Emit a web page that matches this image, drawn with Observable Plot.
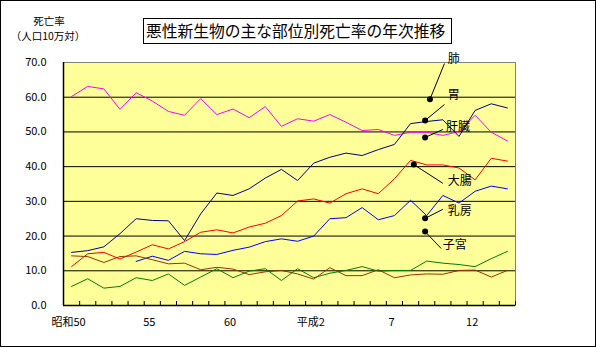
<!DOCTYPE html>
<html>
<head>
<meta charset="utf-8">
<script src="https://cdn.jsdelivr.net/npm/d3@7"></script>
<script src="https://cdn.jsdelivr.net/npm/@observablehq/plot@0.6"></script>
<style>
  body { margin: 0; background: #fff; }
  #wrap { position: relative; width: 596px; height: 348px; font-family: "Noto Sans CJK JP", sans-serif; }
  #border { position: absolute; left: 0; top: 0; width: 596px; height: 347px; box-sizing: border-box; border: 1px solid #000; pointer-events: none; }
  #title { position: absolute; left: 143px; top: 18px; width: 309px; height: 26px; box-sizing: border-box; border: 1px solid #000; background: #fff; }
  #title span { position: absolute; left: 2px; top: 0; font-size: 17px; line-height: 23px; white-space: nowrap; }
  .ylab { position: absolute; font-size: 10.5px; line-height: 12px; white-space: nowrap; text-align: center; }
</style>
</head>
<body>
<div id="wrap">
  <div id="chart"></div>
  <div id="title"><span id="titletext">悪性新生物の主な部位別死亡率の年次推移</span></div>
  <div class="ylab" style="left:20px; top:15px; width:58px;">死亡率</div>
  <div class="ylab" style="left:7px; top:30px; width:82px;">（人口10万対）</div>
  <div id="border"></div>
</div>
<script>
// Categories: years 昭和50 (1975) .. 平成14 (2002)
const years = [1975,1976,1977,1978,1979,1980,1981,1982,1983,1984,1985,1986,1987,1988,
               1989,1990,1991,1992,1993,1994,1995,1996,1997,1998,1999,2000,2001,2002];
const xLabelYears = [1975, 1980, 1985, 1990, 1995, 2000];
const xLabelTexts = ["昭和50", "55", "60", "平成2", "7", "12"];
const yTicks = [0, 10, 20, 30, 40, 50, 60, 70];

// Series values (per 100,000)
const magentaSeries = [60.2, 63.1, 62.4, 56.5, 61.3, 58.9, 55.9, 54.8, 59.6, 55.0, 56.6, 54.1, 57.3, 51.6,
                       53.8, 53.1, 55.0, 52.8, 50.4, 50.7, 49.0, 49.9, 49.9, 49.0, 50.1, 54.8, 49.9, 47.4];
const navySeries    = [15.3, 15.8, 16.9, 20.7, 25.0, 24.5, 24.4, 18.7, 26.4, 32.4, 31.7, 33.6, 36.7, 39.2,
                       36.0, 41.0, 42.7, 43.9, 43.2, 44.9, 46.4, 52.4, 53.0, 53.5, 48.7, 56.2, 58.1, 56.9];
const redSeries     = [11.2, 14.9, 15.3, 13.4, 15.4, 17.5, 16.3, 18.4, 21.1, 21.8, 20.9, 22.6, 23.7, 25.9,
                       30.1, 30.7, 29.5, 32.2, 33.6, 32.2, 36.5, 41.8, 40.5, 40.5, 39.6, 36.2, 42.4, 41.6];
const blueSeries    = [null, null, null, null, 12.7, 14.2, 13.0, 15.6, 14.9, 14.7, 15.9, 16.8, 18.4, 19.2,
                       18.5, 20.0, 25.0, 25.3, 28.2, 24.7, 25.9, 30.3, 25.9, 31.7, 29.5, 32.9, 34.4, 33.6];
const brownSeries   = [14.3, 14.1, 12.4, 14.1, 14.3, 13.2, 12.0, 12.2, 10.3, 11.0, 10.5, 8.9, 9.7, 10.1,
                       9.1, 7.6, 10.9, 8.6, 8.6, 10.3, 8.0, 8.8, 9.1, 9.0, 10.1, 10.2, 8.2, 10.1];
const greenSeries   = [5.5, 7.7, 5.0, 5.5, 8.0, 7.2, 9.1, 5.8, 8.2, 10.6, 8.0, 9.9, 10.6, 7.2,
                       10.6, 8.0, 9.3, 10.1, 11.2, 9.9, 10.1, 10.1, 12.8, 12.2, 11.8, 11.2, 13.5, 15.6];

const seriesList = [magentaSeries, navySeries, redSeries, blueSeries, brownSeries, greenSeries];
const seriesColors = ["#ff00ff", "#000080", "#ff0000", "#0000ff", "#993300", "#008000"];

// Callout labels (data-space anchor points)
const calloutLabels = ["肺", "胃", "肝臓", "大腸", "乳房", "子宮"];
const dotYear   = [1997.2, 1996.9, 1996.9, 1996.2, 1996.9, 1996.9];
const dotValue  = [59.4, 53.3, 48.4, 40.6, 25.1, 21.3];
const leadYear  = [1998.1, 1998.1, 1998.0, 1998.0, 1998.0, 1997.9];
const leadValue = [69.7, 57.9, 50.7, 35.2, 27.7, 16.4];
const textYear  = [1998.3, 1998.3, 1998.2, 1998.3, 1998.3, 1998.0];
const textValue = [70.9, 60.5, 51.3, 35.7, 27.1, 17.3];

const labelMap = new Map(xLabelYears.map((y, i) => [y, xLabelTexts[i]]));
const boundaries = years.map(y => y - 0.5).concat([years[years.length - 1] + 0.5]);
const xMin = years[0] - 0.5, xMax = years[years.length - 1] + 0.5;
const callouts = calloutLabels.map((t, i) => ({t, dx: dotYear[i], dy: dotValue[i], lx: leadYear[i], ly: leadValue[i], tx: textYear[i], ty: textValue[i]}));

const lineMarks = seriesList.map((s, k) =>
  Plot.line(s, {x: (d, i) => years[i], y: d => d, stroke: seriesColors[k], strokeWidth: 1})
);

const chart = Plot.plot({
  width: 596,
  height: 348,
  marginLeft: 63,
  marginRight: 81,
  marginTop: 62,
  marginBottom: 43,
  style: {fontFamily: "'Noto Sans CJK JP', sans-serif", fontSize: "11px", background: "transparent", color: "#000"},
  x: {domain: [xMin, xMax]},
  y: {domain: [0, 70]},
  marks: [
    Plot.frame({fill: "#ffff99", stroke: "#808080"}),
    Plot.ruleY(yTicks.filter(v => v > 0 && v < 70), {stroke: "#000", strokeWidth: 1}),
    Plot.ruleY([0], {stroke: "#000", strokeWidth: 1.5}),
    Plot.ruleX([xMin], {stroke: "#000", strokeWidth: 1.5}),
    Plot.ruleX(boundaries, {x: d => d, y1: 0, y2: 0, insetTop: -4, stroke: "#000"}),
    Plot.axisY({ticks: yTicks, tickSize: 0, tickPadding: 17, tickFormat: d3.format(".1f"), label: null, fontSize: 11}),
    Plot.axisX({ticks: xLabelYears, tickSize: 0, tickPadding: 13, tickFormat: d => labelMap.get(d), label: null, dx: -3, fontSize: 11}),
    ...lineMarks,
    Plot.link(callouts, {x1: "dx", y1: "dy", x2: "lx", y2: "ly", stroke: "#000", strokeWidth: 1}),
    Plot.dot(callouts, {x: "dx", y: "dy", r: 3, fill: "#000"}),
    Plot.text(callouts, {x: "tx", y: "ty", text: "t", textAnchor: "start", fontSize: 12, fill: "#000"})
  ]
});
document.getElementById("chart").appendChild(chart);

// Fit the title text inside its box
const tt = document.getElementById("titletext");
let fs = 17;
while (tt.getBoundingClientRect().width > 303 && fs > 10) {
  fs -= 0.25;
  tt.style.fontSize = fs + "px";
}
</script>
</body>
</html>
